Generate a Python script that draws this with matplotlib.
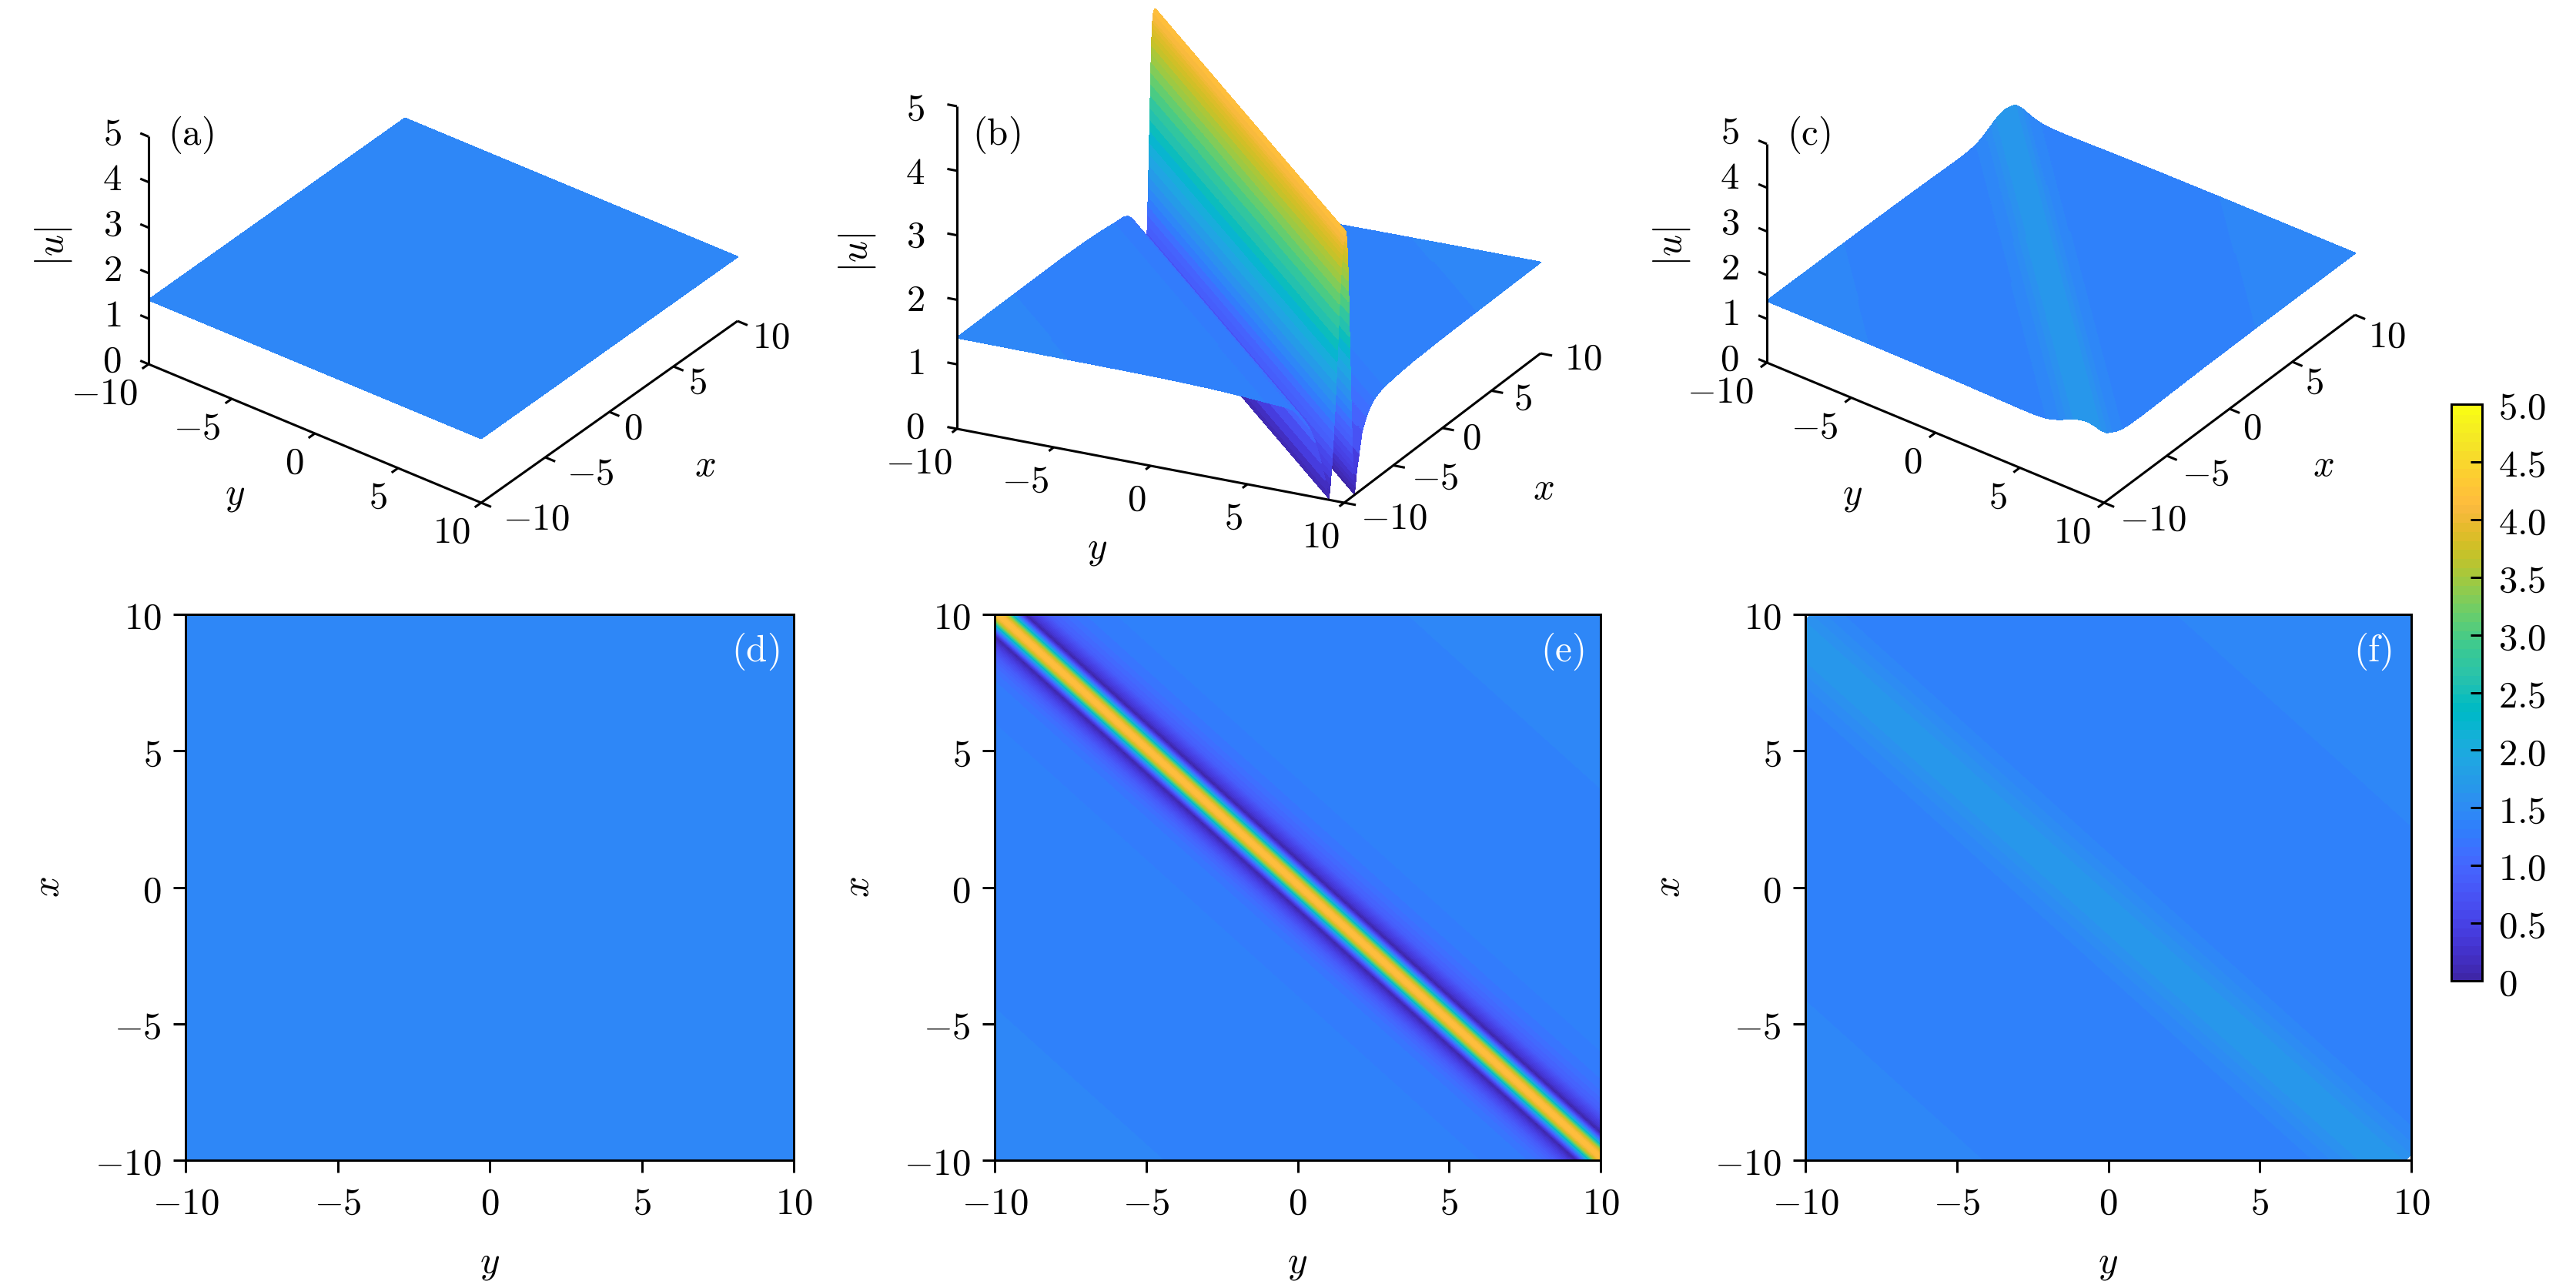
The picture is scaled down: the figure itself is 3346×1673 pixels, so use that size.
import numpy as np
import matplotlib
matplotlib.use('Agg')
import matplotlib.pyplot as plt
from matplotlib.colors import ListedColormap, Normalize
from matplotlib.cm import ScalarMappable
from mpl_toolkits.mplot3d import proj3d

plt.rcParams['mathtext.fontset'] = 'cm'
plt.rcParams['font.size'] = 17.6

# colour table, 64 steps
parula_rgb = [
    [0.2422, 0.1504, 0.6603], [0.2504, 0.1650, 0.7076], [0.2578, 0.1818, 0.7511], [0.2647, 0.1978, 0.7952],
    [0.2706, 0.2147, 0.8364], [0.2751, 0.2342, 0.8710], [0.2783, 0.2559, 0.8991], [0.2803, 0.2782, 0.9221],
    [0.2813, 0.3006, 0.9414], [0.2810, 0.3228, 0.9579], [0.2795, 0.3447, 0.9717], [0.2760, 0.3667, 0.9829],
    [0.2699, 0.3892, 0.9906], [0.2602, 0.4123, 0.9952], [0.2440, 0.4358, 0.9988], [0.2206, 0.4603, 0.9973],
    [0.1963, 0.4847, 0.9892], [0.1834, 0.5074, 0.9798], [0.1786, 0.5289, 0.9682], [0.1764, 0.5499, 0.9520],
    [0.1687, 0.5703, 0.9359], [0.1540, 0.5902, 0.9218], [0.1460, 0.6091, 0.9079], [0.1380, 0.6276, 0.8973],
    [0.1248, 0.6459, 0.8883], [0.1113, 0.6635, 0.8763], [0.0952, 0.6798, 0.8598], [0.0689, 0.6948, 0.8394],
    [0.0297, 0.7082, 0.8163], [0.0036, 0.7203, 0.7917], [0.0067, 0.7312, 0.7660], [0.0433, 0.7411, 0.7394],
    [0.0964, 0.7500, 0.7120], [0.1408, 0.7584, 0.6842], [0.1717, 0.7670, 0.6554], [0.1938, 0.7758, 0.6251],
    [0.2161, 0.7843, 0.5923], [0.2470, 0.7918, 0.5567], [0.2906, 0.7973, 0.5188], [0.3406, 0.8008, 0.4789],
    [0.3909, 0.8029, 0.4354], [0.4456, 0.8024, 0.3909], [0.5044, 0.7993, 0.3480], [0.5616, 0.7942, 0.3045],
    [0.6174, 0.7876, 0.2612], [0.6720, 0.7793, 0.2227], [0.7242, 0.7698, 0.1910], [0.7738, 0.7598, 0.1646],
    [0.8203, 0.7498, 0.1535], [0.8634, 0.7406, 0.1596], [0.9035, 0.7330, 0.1774], [0.9393, 0.7288, 0.2100],
    [0.9728, 0.7298, 0.2394], [0.9956, 0.7434, 0.2371], [0.9970, 0.7659, 0.2199], [0.9952, 0.7893, 0.2028],
    [0.9892, 0.8136, 0.1885], [0.9786, 0.8386, 0.1766], [0.9676, 0.8639, 0.1643], [0.9610, 0.8890, 0.1537],
    [0.9597, 0.9135, 0.1423], [0.9628, 0.9373, 0.1265], [0.9691, 0.9606, 0.1064], [0.9769, 0.9839, 0.0805],
]

# |u| read across the diagonal, s = x + y (the field is constant along the diagonal)
s_flat = [-20, -10, 0, 10, 20]
u_flat = [1.412, 1.412, 1.412, 1.412, 1.412]

s_ridge = [-20, -17, -14.2, -12, -10, -8.5, -7, -6, -5, -4, -3.5, -3, -2.6, -2.2, -1.8, -1.5, -1.2, -1, -0.9,
           -0.8, -0.775, -0.75, -0.725, -0.7, -0.675, -0.65, -0.625, -0.6, -0.575, -0.55, -0.525, -0.5, -0.475,
           -0.45, -0.425, -0.4, -0.375, -0.35, -0.325, -0.3, -0.275, -0.25, -0.225, -0.2, -0.175, -0.15, -0.125,
           -0.1, -0.075, -0.05, -0.025, 0, 0.025, 0.05, 0.075, 0.1, 0.125, 0.15, 0.175, 0.2, 0.225, 0.25, 0.275,
           0.3, 0.325, 0.35, 0.375, 0.4, 0.425, 0.45, 0.475, 0.5, 0.525, 0.55, 0.575, 0.6, 0.625, 0.65, 0.675,
           0.7, 0.725, 0.75, 0.775, 0.8, 0.825, 0.85, 0.875, 0.9, 0.925, 0.95, 0.975, 1.0,
           1.1, 1.2, 1.5, 1.8, 2.2, 2.6, 3, 3.5, 4, 5, 6, 7, 8.5, 10, 12, 13.4, 17, 20]
u_ridge = [1.412, 1.409, 1.406, 1.403, 1.40, 1.392, 1.38, 1.367, 1.35, 1.328, 1.32, 1.31, 1.28, 1.2, 1.05, 0.85, 0.55, 0.3, 0.15,
           0.03, 0.09, 0.17, 0.25, 0.35, 0.45, 0.55, 0.67, 0.8, 0.93, 1.07, 1.21, 1.35, 1.5,
           1.66, 1.83, 2.0, 2.17, 2.35, 2.52, 2.7, 2.89, 3.07, 3.24, 3.4, 3.53, 3.65, 3.76,
           3.85, 3.93, 4.0, 4.05, 4.1, 4.14, 4.17, 4.19, 4.2, 4.19, 4.17, 4.14, 4.1, 4.05, 4.0, 3.93,
           3.85, 3.76, 3.65, 3.53, 3.4, 3.24, 3.07, 2.89, 2.7, 2.52, 2.35, 2.17, 2.0, 1.83, 1.66, 1.5,
           1.35, 1.21, 1.07, 0.93, 0.8, 0.67, 0.55, 0.45, 0.35, 0.25, 0.17, 0.09, 0.03,
           0.12, 0.3, 0.6, 0.9, 1.06, 1.18, 1.25, 1.3, 1.328, 1.355, 1.372, 1.385, 1.393, 1.40, 1.404, 1.406, 1.41, 1.412]

s_low = [-20, -17, -13.9, -12, -10, -8.5, -7, -6, -5, -4.2, -3.4, -3.0, -2.6, -2.2, -1.8, -1.4, -1.0, -0.6, -0.2,
         0.2, 0.6, 1, 1.4, 2, 3, 4, 5, 6.5, 8, 10, 12, 14, 17, 20]
u_low = [1.412, 1.409, 1.406, 1.403, 1.396, 1.39, 1.38, 1.372, 1.365, 1.365, 1.39, 1.43, 1.49, 1.56, 1.63, 1.68, 1.70, 1.68, 1.63,
         1.56, 1.49, 1.43, 1.39, 1.365, 1.36, 1.365, 1.375, 1.385, 1.395, 1.40, 1.406, 1.408, 1.41, 1.412]

panels_3d = ['(a)', '(b)', '(c)']
panels_2d = ['(d)', '(e)', '(f)']
s_tables = [s_flat, s_ridge, s_low]
u_tables = [u_flat, u_ridge, u_low]

xy_ticks = [-10, -5, 0, 5, 10]
z_ticks = [0, 1, 2, 3, 4, 5]
cbar_ticks = [0, 0.5, 1.0, 1.5, 2.0, 2.5, 3.0, 3.5, 4.0, 4.5, 5.0]
cbar_labels = ['0', '0.5', '1.0', '1.5', '2.0', '2.5', '3.0', '3.5', '4.0', '4.5', '5.0']

# layout in pixels of the final picture, measured from the top left
W, H = 3346, 1673
DPI = 200
layout_3d = [
    dict(origin=(193, 473), y_end=(625, 653), x_end=(958, 417), z_top=(193, 177.5),
         y_off=(-14, 38), x_off=(19, 21), x_neg=9, x_tilt=(0, 0), z_off=-35, z_dy=(-4, 0),
         xlab=(916, 604), ylab=(305, 643), ulab=(69, 320), tag=(248, 175)),
    dict(origin=(1243, 557), y_end=(1746, 653), x_end=(2001, 459), z_top=(1243, 138),
         y_off=(-6, 44), x_off=(26, 13), x_neg=0, x_tilt=(0.5, -0.65), z_off=-42, z_dy=(-2, 1.2),
         xlab=(2005, 634), ylab=(1425, 713), ulab=(1114, 328), tag=(1294, 175)),
    dict(origin=(2295, 471), y_end=(2733, 653), x_end=(3059, 409), z_top=(2295, 187),
         y_off=(-17, 38), x_off=(17, 25), x_neg=3, x_tilt=(0, 0.3), z_off=-36, z_dy=(-4, -2.2),
         xlab=(3018, 604), ylab=(2406, 643), ulab=(2171, 320), tag=(2349, 175)),
]
layout_2d = [(241, 1031), (1292, 2079), (2345, 3132)]
top_2d, bottom_2d = 798, 1507
cbar_box = (3184, 3224, 525, 1274)

cmap = ListedColormap(parula_rgb)
norm = Normalize(0, 5)
levels = np.linspace(0, 5, 65)


def fx(px):
    return px / W


def fy(py):
    return 1 - py / H


def diagonal_mesh(s, u, n_t):
    # mesh over the square with rows along the diagonals s = x + y
    s = np.array(s, dtype=float)
    tau = np.linspace(-1, 1, n_t)
    half = 20 - np.abs(s)
    X = (s[:, None] + half[:, None] * tau) / 2
    Y = (s[:, None] - half[:, None] * tau) / 2
    Z = np.tile(np.array(u, dtype=float)[:, None], (1, n_t))
    return X, Y, Z


def solve_view(origin, x_end, y_end, z_top):
    # elevation, azimuth and box sides giving the wanted screen directions
    xr, xu = x_end[0] - y_end[0], y_end[1] - x_end[1]
    yr, yd = y_end[0] - origin[0], y_end[1] - origin[1]
    zu = origin[1] - z_top[1]
    ang = np.arctan(np.sqrt(xr * yd / (xu * yr)))
    a = xr / np.sin(ang)
    b = yr / np.cos(ang)
    el = np.arcsin(xu / (a * np.cos(ang)))
    c = zu / np.cos(el)
    return np.degrees(el), 180 + np.degrees(ang), (a, b, c)


def to_display(ax, x, y, z):
    X, Y, _ = proj3d.proj_transform(x, y, z, ax.get_proj())
    return ax.transData.transform((X, Y))


def place_axes(ax, origin, x_end):
    # scale and shift the square axes so the box corners land on the wanted pixels
    size = 1400.0
    ax.set_position([0, 0, size / W, size / H])
    ax.apply_aspect()
    p0 = to_display(ax, -10, -10, 0)
    p1 = to_display(ax, 10, 10, 0)
    want = np.hypot(x_end[0] - origin[0], x_end[1] - origin[1])
    size *= want / np.hypot(*(p1 - p0))
    ax.set_position([0, 0, size / W, size / H])
    ax.apply_aspect()
    p0 = to_display(ax, -10, -10, 0)
    left = origin[0] - p0[0]
    low = (H - origin[1]) - p0[1]
    ax.set_position([left / W, low / H, size / W, size / H])
    ax.apply_aspect()


def label_3d(ax, x, y, z, text, dx, dy, ha):
    X, Y, _ = proj3d.proj_transform(x, y, z, ax.get_proj())
    ax.annotate(text, (X, Y), xytext=(dx * 72 / DPI, -dy * 72 / DPI), textcoords='offset points',
                ha=ha, va='center', annotation_clip=False)


def axis_line(ax, xs, ys, zs):
    ax.plot(xs, ys, zs, color='k', lw=1.1, clip_on=False, zorder=5, solid_capstyle='butt')


fig = plt.figure(figsize=(W / DPI, H / DPI), dpi=DPI)

# top row, surfaces
for tag, s, u, lay in zip(panels_3d, s_tables, u_tables, layout_3d):
    ax = fig.add_axes([0, 0, 0.4, 0.8], projection='3d', proj_type='ortho')
    ax.computed_zorder = False
    ax.set_axis_off()
    ax.patch.set_facecolor('none')
    ax.set_xlim(-10, 10)
    ax.set_ylim(10, -10)
    ax.set_zlim(0, 5)
    el, az, box = solve_view(lay['origin'], lay['x_end'], lay['y_end'], lay['z_top'])
    ax.view_init(elev=el, azim=az)
    ax.set_box_aspect(box)
    place_axes(ax, lay['origin'], lay['x_end'])

    X, Y, Z = diagonal_mesh(s, u, 80)
    surf = ax.plot_surface(X, Y, Z, rstride=1, cstride=1, cmap=cmap, norm=norm, shade=False,
                           antialiased=False, linewidth=0.3, zorder=1)
    surf.set_edgecolor('face')
    surf.set_clip_on(False)

    axis_line(ax, [-10, -10], [-10, 10], [0, 0])
    axis_line(ax, [-10, 10], [10, 10], [0, 0])
    axis_line(ax, [-10, -10], [-10, -10], [0, 5])
    for t in xy_ticks:
        axis_line(ax, [-10, -10.5], [t, t], [0, 0])
        axis_line(ax, [t, t], [10, 10.6], [0, 0])
        label_3d(ax, -10, t, 0, f'${t}$', lay['y_off'][0], lay['y_off'][1], 'right')
        neg = lay['x_neg'] if t < 0 else 0
        label_3d(ax, t, 10, 0, f'${t}$', lay['x_off'][0] + neg + lay['x_tilt'][0] * t,
                 lay['x_off'][1] + lay['x_tilt'][1] * t, 'left')
    for t in z_ticks:
        axis_line(ax, [-10, -10], [-10, -10.5], [t, t])
        label_3d(ax, -10, -10, t, f'${t}$', lay['z_off'], lay['z_dy'][0] + lay['z_dy'][1] * t, 'right')

    fig.text(fx(lay['xlab'][0]), fy(lay['xlab'][1]), '$x$', ha='center', va='center')
    fig.text(fx(lay['ylab'][0]), fy(lay['ylab'][1]), '$y$', ha='center', va='center')
    fig.text(fx(lay['ulab'][0]), fy(lay['ulab'][1]), '$|u|$', ha='center', va='center', rotation=90)
    fig.text(fx(lay['tag'][0]), fy(lay['tag'][1]), r'$\mathrm{' + tag + '}$', ha='center', va='center')

# bottom row, maps
for tag, s, u, (left, right) in zip(panels_2d, s_tables, u_tables, layout_2d):
    ax = fig.add_axes([fx(left), fy(bottom_2d), (right - left) / W, (bottom_2d - top_2d) / H])
    X, Y, Z = diagonal_mesh(s, u, 2)
    # x is the vertical axis and y the horizontal one in these maps
    ax.contourf(Y, X, Z, levels=levels, cmap=cmap, norm=norm)
    ax.set_xlim(-10, 10)
    ax.set_ylim(-10, 10)
    ax.set_xticks(xy_ticks, [f'${t}$' for t in xy_ticks])
    ax.set_yticks(xy_ticks, [f'${t}$' for t in xy_ticks])
    ax.tick_params(direction='out', length=5.8, width=1.08, pad=5.5)
    for spine in ax.spines.values():
        spine.set_linewidth(1.08)
    ax.set_xlabel('$y$', va='center')
    ax.set_ylabel('$x$', va='center', rotation=90)
    ax.xaxis.set_label_coords(0.5, -0.189)
    ax.yaxis.set_label_coords(-0.2266, 0.5)
    ax.text(1 - 50 / (right - left), 1 - 48 / (bottom_2d - top_2d), r'$\mathrm{' + tag + '}$',
            transform=ax.transAxes, color='white', ha='center', va='center')

# colour bar
cax = fig.add_axes([fx(cbar_box[0]), fy(cbar_box[3]), (cbar_box[1] - cbar_box[0]) / W, (cbar_box[3] - cbar_box[2]) / H])
cb = fig.colorbar(ScalarMappable(norm=norm, cmap=cmap), cax=cax, ticks=cbar_ticks)
cb.set_ticklabels([f'${t}$' for t in cbar_labels])
cb.ax.tick_params(direction='in', length=5.4, width=1.08, pad=7.5, right=True)
cb.outline.set_linewidth(1.08)
cb.solids.set_edgecolor('face')

fig.savefig('out.png', dpi=DPI)
